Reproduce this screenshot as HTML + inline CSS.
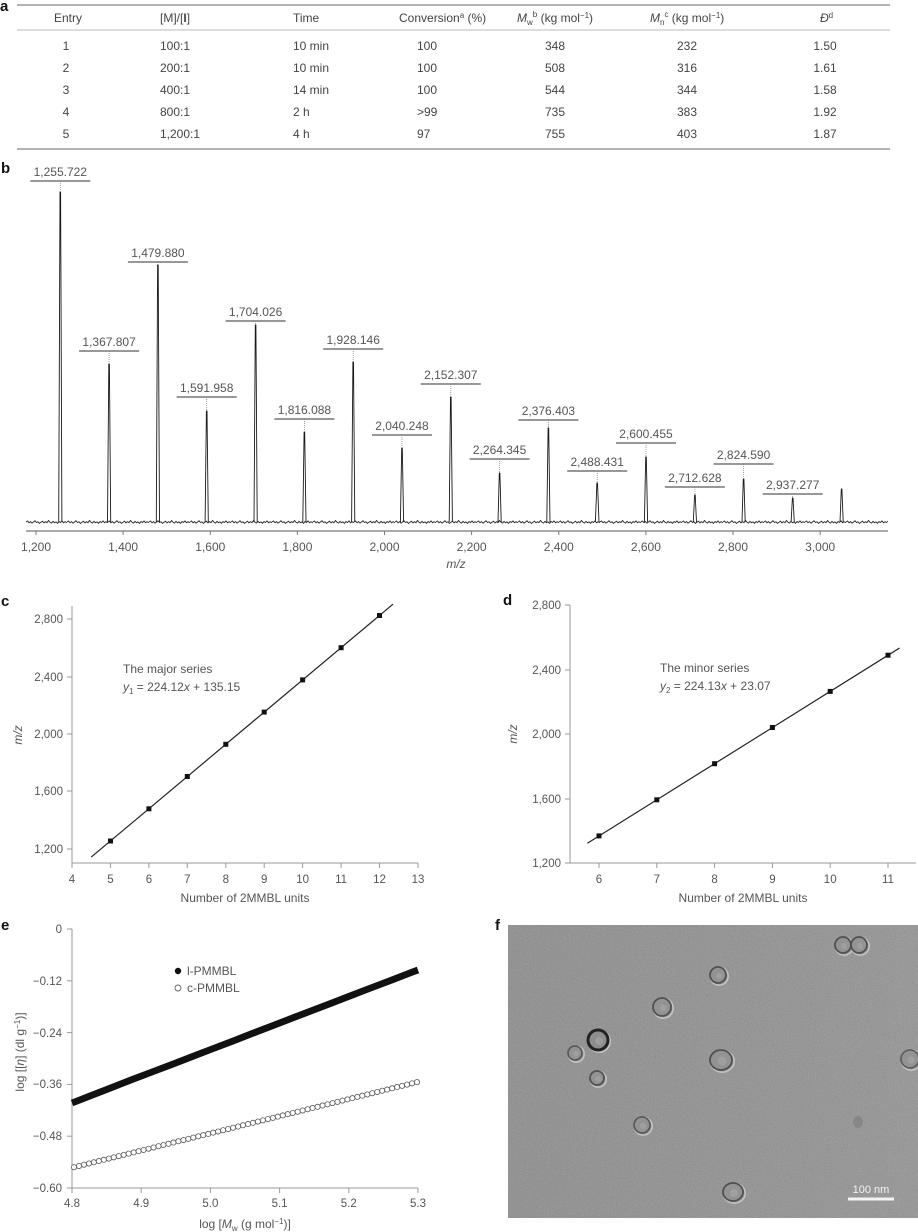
<!DOCTYPE html>
<html>
<head>
<meta charset="utf-8">
<style>
html,body{margin:0;padding:0;background:#fff;}
body{width:918px;height:1232px;overflow:hidden;}
svg{display:block;}
text{font-family:"Liberation Sans",Arial,sans-serif;}
.t{font-size:12px;fill:#444;}
.lab{font-size:12px;fill:#555;}
.tk{font-size:11.5px;fill:#555;}
.pl{font-size:15px;font-weight:bold;fill:#111;}
</style>
</head>
<body>
<svg width="918" height="1232" viewBox="0 0 918 1232" xmlns="http://www.w3.org/2000/svg">
<defs>
<filter id="noise" x="0" y="0" width="100%" height="100%">
<feTurbulence type="fractalNoise" baseFrequency="0.85" numOctaves="2" seed="7"/>
<feColorMatrix type="matrix" values="0.33 0.33 0.33 0 0  0.33 0.33 0.33 0 0  0.33 0.33 0.33 0 0  0 0 0 0 1"/>
</filter>
<linearGradient id="fg" x1="0" y1="0" x2="1" y2="0">
<stop offset="0" stop-color="#828282"/>
<stop offset="1" stop-color="#8b8b8b"/>
</linearGradient>
<pattern id="bl" patternUnits="userSpaceOnUse" x="26" y="517" width="41" height="10">
<polyline points="0,5 1.5,4 3,5.8 4.5,4.6 6,6.2 7.5,5 9,3.8 10.5,5.5 12,4.8 13.5,6.4 15,5.2 16.5,4.2 18,5.9 19.5,4.7 21,5.6 22.5,3.5 24,5.3 25.5,6.1 27,4.4 28.5,5.7 30,4.9 31.5,6.3 33,4.6 34.5,5.4 36,3.9 37.5,5.8 39,4.8 40.5,5.5 41,5" fill="none" stroke="#222" stroke-width="0.9"/>
</pattern>
<marker id="oc" markerWidth="8" markerHeight="8" refX="4" refY="4" markerUnits="userSpaceOnUse">
<circle cx="4" cy="4" r="2.6" fill="#fff" stroke="#555" stroke-width="0.8"/>
</marker>
</defs>

<!-- ===== Panel a: table ===== -->
<text class="pl" x="0" y="11" font-size="13">a</text>
<line x1="17" y1="5" x2="890" y2="5" stroke="#9a9a9a" stroke-width="1.6"/>
<line x1="17" y1="30" x2="890" y2="30" stroke="#bbb" stroke-width="1"/>
<line x1="17" y1="149" x2="890" y2="149" stroke="#9a9a9a" stroke-width="1.6"/>
<g class="t">
<text x="68" y="22" text-anchor="middle">Entry</text>
<text x="160" y="22">[M]/[<tspan font-weight="bold">I</tspan>]</text>
<text x="293" y="22">Time</text>
<text x="399" y="22">Conversion<tspan font-size="8" dy="-4">a</tspan><tspan dy="4"> (%)</tspan></text>
<text x="517" y="22"><tspan font-style="italic">M</tspan><tspan font-size="8" dy="3">w</tspan><tspan font-size="8" dy="-8">b</tspan><tspan dy="5"> (kg mol</tspan><tspan font-size="8" dy="-4">−1</tspan><tspan dy="4">)</tspan></text>
<text x="650" y="22"><tspan font-style="italic">M</tspan><tspan font-size="8" dy="3">n</tspan><tspan font-size="8" dy="-8">c</tspan><tspan dy="5"> (kg mol</tspan><tspan font-size="8" dy="-4">−1</tspan><tspan dy="4">)</tspan></text>
<text x="820" y="22"><tspan font-style="italic">Đ</tspan><tspan font-size="8" dy="-4">d</tspan></text>
</g>
<g class="t" text-anchor="middle">
<text x="66" y="50">1</text><text x="66" y="72">2</text><text x="66" y="94">3</text><text x="66" y="116">4</text><text x="66" y="138">5</text>
<text x="555" y="50">348</text><text x="555" y="72">508</text><text x="555" y="94">544</text><text x="555" y="116">735</text><text x="555" y="138">755</text>
<text x="687" y="50">232</text><text x="687" y="72">316</text><text x="687" y="94">344</text><text x="687" y="116">383</text><text x="687" y="138">403</text>
<text x="825" y="50">1.50</text><text x="825" y="72">1.61</text><text x="825" y="94">1.58</text><text x="825" y="116">1.92</text><text x="825" y="138">1.87</text>
</g>
<g class="t">
<text x="160" y="50">100:1</text><text x="160" y="72">200:1</text><text x="160" y="94">400:1</text><text x="160" y="116">800:1</text><text x="160" y="138">1,200:1</text>
<text x="293" y="50">10 min</text><text x="293" y="72">10 min</text><text x="293" y="94">14 min</text><text x="293" y="116">2 h</text><text x="293" y="138">4 h</text>
<text x="417" y="50">100</text><text x="417" y="72">100</text><text x="417" y="94">100</text><text x="417" y="116">&gt;99</text><text x="417" y="138">97</text>
</g>

<!-- ===== Panel b: spectrum ===== -->
<text class="pl" x="1" y="173">b</text>
<line x1="26" y1="531" x2="888" y2="531" stroke="#777" stroke-width="1.2"/>
<g stroke="#777" stroke-width="1">
<line x1="36" y1="531" x2="36" y2="535"/><line x1="123.1" y1="531" x2="123.1" y2="535"/><line x1="210.3" y1="531" x2="210.3" y2="535"/><line x1="297.4" y1="531" x2="297.4" y2="535"/><line x1="384.5" y1="531" x2="384.5" y2="535"/><line x1="471.6" y1="531" x2="471.6" y2="535"/><line x1="558.8" y1="531" x2="558.8" y2="535"/><line x1="645.9" y1="531" x2="645.9" y2="535"/><line x1="733" y1="531" x2="733" y2="535"/><line x1="820.2" y1="531" x2="820.2" y2="535"/>
</g>
<g class="lab" text-anchor="middle">
<text x="36" y="551">1,200</text><text x="123.1" y="551">1,400</text><text x="210.3" y="551">1,600</text><text x="297.4" y="551">1,800</text><text x="384.5" y="551">2,000</text><text x="471.6" y="551">2,200</text><text x="558.8" y="551">2,400</text><text x="645.9" y="551">2,600</text><text x="733" y="551">2,800</text><text x="820.2" y="551">3,000</text>
<text x="456" y="568" font-style="italic">m/z</text>
</g>
<rect x="26" y="517" width="862" height="10" fill="url(#bl)"/>
<path d="M58.7 522L60 192L60.6 192L61.9 522 M107.5 522L108.8 364L109.4 364L110.7 522 M156.3 522L157.6 265L158.2 265L159.5 522 M205.1 522L206.4 411L207 411L208.3 522 M254 522L255.3 325L255.9 325L257.2 522 M302.8 522L304.1 432L304.7 432L306 522 M351.6 522L352.9 362L353.5 362L354.8 522 M400.4 522L401.7 448L402.3 448L403.6 522 M449.2 522L450.5 397L451.1 397L452.4 522 M498 522L499.3 473L499.9 473L501.2 522 M546.8 522L548.1 428L548.7 428L550 522 M595.4 522L596.9 483L597.5 483L599 522 M644.4 522L645.7 457L646.3 457L647.6 522 M693.3 522L694.6 495L695.2 495L696.5 522 M742 522L743.3 479L743.9 479L745.2 522 M791.1 522L792.4 498L793 498L794.3 522 M840 522L841.3 489L841.9 489L843.2 522" fill="none" stroke="#1a1a1a" stroke-width="0.9" stroke-linejoin="round"/>
<path d="M30.3 181h60 M79.1 351h60 M127.9 262h60 M176.7 397h60 M225.6 321h60 M274.4 419h60 M323.2 349h60 M372 435h60 M420.8 384h60 M469.6 459h60 M518.4 420h60 M567.2 471h60 M616 443h60 M664.9 487h60 M713.6 464h60 M762.7 494h60" fill="none" stroke="#777" stroke-width="1.5"/>
<path d="M60.3 181V192 M109.1 351V364 M157.9 262V265 M206.7 397V411 M255.6 321V325 M304.4 419V432 M353.2 349V362 M402 435V448 M450.8 384V397 M499.6 459V473 M548.4 420V428 M597.2 471V483 M646 443V457 M694.9 487V495 M743.6 464V479 M792.7 494V498" fill="none" stroke="#888" stroke-width="0.8" stroke-dasharray="1 1"/>
<g class="lab" text-anchor="middle">
<text x="60.3" y="176">1,255.722</text>
<text x="109.1" y="346">1,367.807</text>
<text x="157.9" y="257">1,479.880</text>
<text x="206.7" y="392">1,591.958</text>
<text x="255.6" y="316">1,704.026</text>
<text x="304.4" y="414">1,816.088</text>
<text x="353.2" y="344">1,928.146</text>
<text x="402.0" y="430">2,040.248</text>
<text x="450.8" y="379">2,152.307</text>
<text x="499.6" y="454">2,264.345</text>
<text x="548.4" y="415">2,376.403</text>
<text x="597.2" y="466">2,488.431</text>
<text x="646.0" y="438">2,600.455</text>
<text x="694.9" y="482">2,712.628</text>
<text x="743.6" y="459">2,824.590</text>
<text x="792.7" y="489">2,937.277</text>
</g>

<!-- ===== Panel c ===== -->
<text class="pl" x="1" y="606">c</text>
<g stroke="#999" stroke-width="1">
<line x1="72" y1="606" x2="72" y2="863.5"/>
<line x1="71.5" y1="863" x2="418" y2="863"/>
<line x1="67" y1="619" x2="72" y2="619"/><line x1="67" y1="677" x2="72" y2="677"/><line x1="67" y1="734" x2="72" y2="734"/><line x1="67" y1="791" x2="72" y2="791"/><line x1="67" y1="849" x2="72" y2="849"/>
<line x1="72" y1="863" x2="72" y2="868"/><line x1="110.4" y1="863" x2="110.4" y2="868"/><line x1="148.9" y1="863" x2="148.9" y2="868"/><line x1="187.3" y1="863" x2="187.3" y2="868"/><line x1="225.8" y1="863" x2="225.8" y2="868"/><line x1="264.2" y1="863" x2="264.2" y2="868"/><line x1="302.6" y1="863" x2="302.6" y2="868"/><line x1="341.1" y1="863" x2="341.1" y2="868"/><line x1="379.5" y1="863" x2="379.5" y2="868"/><line x1="418" y1="863" x2="418" y2="868"/>
</g>
<g class="tk" text-anchor="end">
<text x="63" y="623">2,800</text><text x="63" y="681">2,400</text><text x="63" y="738">2,000</text><text x="63" y="795">1,600</text><text x="63" y="853">1,200</text>
</g>
<g class="tk" text-anchor="middle">
<text x="72" y="883">4</text><text x="110.4" y="883">5</text><text x="148.9" y="883">6</text><text x="187.3" y="883">7</text><text x="225.8" y="883">8</text><text x="264.2" y="883">9</text><text x="302.6" y="883">10</text><text x="341.1" y="883">11</text><text x="379.5" y="883">12</text><text x="418" y="883">13</text>
</g>
<text class="lab" x="245" y="902" text-anchor="middle">Number of 2MMBL units</text>
<text class="lab" x="22" y="735" text-anchor="middle" font-style="italic" transform="rotate(-90 22 735)">m/z</text>
<text class="lab" x="123" y="673" font-size="12.5">The major series</text>
<text class="lab" x="123" y="691" font-size="12.5"><tspan font-style="italic">y</tspan><tspan font-size="8" dy="3">1</tspan><tspan dy="-3"> = 224.12</tspan><tspan font-style="italic">x</tspan> + 135.15</text>
<line x1="91.2" y1="857.1" x2="393" y2="604.2" stroke="#222" stroke-width="1.2"/>
<g fill="#111">
<rect x="108" y="838.5" width="5" height="5"/><rect x="146.4" y="806.3" width="5" height="5"/><rect x="184.8" y="774" width="5" height="5"/><rect x="223.3" y="741.8" width="5" height="5"/><rect x="261.7" y="709.6" width="5" height="5"/><rect x="300.1" y="677.4" width="5" height="5"/><rect x="338.6" y="645.2" width="5" height="5"/><rect x="377" y="613" width="5" height="5"/>
</g>

<!-- ===== Panel d ===== -->
<text class="pl" x="503" y="605">d</text>
<g stroke="#999" stroke-width="1">
<line x1="570" y1="605" x2="570" y2="863.5"/>
<line x1="569.5" y1="863" x2="916" y2="863"/>
<line x1="565" y1="605" x2="570" y2="605"/><line x1="565" y1="670" x2="570" y2="670"/><line x1="565" y1="734" x2="570" y2="734"/><line x1="565" y1="799" x2="570" y2="799"/><line x1="565" y1="863" x2="570" y2="863"/>
<line x1="599" y1="863" x2="599" y2="868"/><line x1="656.8" y1="863" x2="656.8" y2="868"/><line x1="714.6" y1="863" x2="714.6" y2="868"/><line x1="772.4" y1="863" x2="772.4" y2="868"/><line x1="830.2" y1="863" x2="830.2" y2="868"/><line x1="888" y1="863" x2="888" y2="868"/>
</g>
<g class="tk" text-anchor="end">
<text x="561" y="609">2,800</text><text x="561" y="674">2,400</text><text x="561" y="738">2,000</text><text x="561" y="803">1,600</text><text x="561" y="867">1,200</text>
</g>
<g class="tk" text-anchor="middle">
<text x="599" y="883">6</text><text x="656.8" y="883">7</text><text x="714.6" y="883">8</text><text x="772.4" y="883">9</text><text x="830.2" y="883">10</text><text x="888" y="883">11</text>
</g>
<text class="lab" x="743" y="902" text-anchor="middle">Number of 2MMBL units</text>
<text class="lab" x="517" y="734" text-anchor="middle" font-style="italic" transform="rotate(-90 517 734)">m/z</text>
<text class="lab" x="660" y="672" font-size="12.5">The minor series</text>
<text class="lab" x="660" y="690" font-size="12.5"><tspan font-style="italic">y</tspan><tspan font-size="8" dy="3">2</tspan><tspan dy="-3"> = 224.13</tspan><tspan font-style="italic">x</tspan> + 23.07</text>
<line x1="587.4" y1="843.2" x2="899.6" y2="648" stroke="#222" stroke-width="1.2"/>
<g fill="#111">
<rect x="596.5" y="833.4" width="5" height="5"/><rect x="654.3" y="797.3" width="5" height="5"/><rect x="712.1" y="761.2" width="5" height="5"/><rect x="769.9" y="725" width="5" height="5"/><rect x="827.7" y="688.9" width="5" height="5"/><rect x="885.5" y="652.7" width="5" height="5"/>
</g>

<!-- ===== Panel e ===== -->
<text class="pl" x="1" y="930">e</text>
<g stroke="#999" stroke-width="1">
<line x1="72" y1="929" x2="72" y2="1188.5"/>
<line x1="71.5" y1="1188" x2="418" y2="1188"/>
<line x1="67" y1="929" x2="72" y2="929"/><line x1="67" y1="980.8" x2="72" y2="980.8"/><line x1="67" y1="1032.6" x2="72" y2="1032.6"/><line x1="67" y1="1084.4" x2="72" y2="1084.4"/><line x1="67" y1="1136.2" x2="72" y2="1136.2"/><line x1="67" y1="1188" x2="72" y2="1188"/>
<line x1="72" y1="1188" x2="72" y2="1193"/><line x1="141.2" y1="1188" x2="141.2" y2="1193"/><line x1="210.4" y1="1188" x2="210.4" y2="1193"/><line x1="279.6" y1="1188" x2="279.6" y2="1193"/><line x1="348.8" y1="1188" x2="348.8" y2="1193"/><line x1="418" y1="1188" x2="418" y2="1193"/>
</g>
<g class="tk" text-anchor="end">
<text x="62" y="933">0</text><text x="62" y="985">−0.12</text><text x="62" y="1037">−0.24</text><text x="62" y="1088">−0.36</text><text x="62" y="1140">−0.48</text><text x="62" y="1192">−0.60</text>
</g>
<g class="tk" text-anchor="middle">
<text x="72" y="1207">4.8</text><text x="141.2" y="1207">4.9</text><text x="210.4" y="1207">5.0</text><text x="279.6" y="1207">5.1</text><text x="348.8" y="1207">5.2</text><text x="418" y="1207">5.3</text>
</g>
<text class="lab" x="245" y="1228" text-anchor="middle">log [<tspan font-style="italic">M</tspan><tspan font-size="8" dy="3">w</tspan><tspan dy="-3"> (g mol</tspan><tspan font-size="8" dy="-4">−1</tspan><tspan dy="4">)]</tspan></text>
<text class="lab" x="24" y="1052" text-anchor="middle" transform="rotate(-90 24 1052)">log [[<tspan font-style="italic">η</tspan>] (dl g<tspan font-size="8" dy="-4">−1</tspan><tspan dy="4">)]</tspan></text>
<polyline points="72,1103 92,1095.2 112,1087.4 132,1079.6 152,1072 172,1064.4 192,1056.7 212,1049 232,1041.4 252,1033.6 272,1025.9 292,1018.2 312,1010.6 332,1002.9 352,995.2 372,987.5 392,979.9 412,972.2 418,970" fill="none" stroke="#111" stroke-width="6.8" stroke-linejoin="round"/>
<path d="M74 1167.2 l4.971 -1.233 l4.971 -1.233 l4.971 -1.233 l4.971 -1.233 l4.971 -1.233 l4.971 -1.233 l4.971 -1.233 l4.971 -1.233 l4.971 -1.233 l4.971 -1.233 l4.971 -1.233 l4.971 -1.233 l4.971 -1.233 l4.971 -1.233 l4.971 -1.233 l4.971 -1.233 l4.971 -1.233 l4.971 -1.233 l4.971 -1.233 l4.971 -1.233 l4.971 -1.233 l4.971 -1.233 l4.971 -1.233 l4.971 -1.233 l4.971 -1.233 l4.971 -1.233 l4.971 -1.233 l4.971 -1.233 l4.971 -1.233 l4.971 -1.233 l4.971 -1.233 l4.971 -1.233 l4.971 -1.233 l4.971 -1.233 l4.971 -1.233 l4.971 -1.233 l4.971 -1.233 l4.971 -1.233 l4.971 -1.233 l4.971 -1.233 l4.971 -1.233 l4.971 -1.233 l4.971 -1.233 l4.971 -1.233 l4.971 -1.233 l4.971 -1.233 l4.971 -1.233 l4.971 -1.233 l4.971 -1.233 l4.971 -1.233 l4.971 -1.233 l4.971 -1.233 l4.971 -1.233 l4.971 -1.233 l4.971 -1.233 l4.971 -1.233 l4.971 -1.233 l4.971 -1.233 l4.971 -1.233 l4.971 -1.233 l4.971 -1.233 l4.971 -1.233 l4.971 -1.233 l4.971 -1.233 l4.971 -1.233 l4.971 -1.233 l4.971 -1.233 l4.971 -1.233 l4.971 -1.233" fill="none" stroke="none" marker-start="url(#oc)" marker-mid="url(#oc)" marker-end="url(#oc)"/>
<circle cx="178" cy="971" r="3.2" fill="#111"/>
<circle cx="178" cy="988" r="3" fill="#fff" stroke="#666" stroke-width="0.9"/>
<text class="lab" x="187" y="975" font-size="12.5">l-PMMBL</text>
<text class="lab" x="187" y="992" font-size="12.5">c-PMMBL</text>

<!-- ===== Panel f ===== -->
<text class="pl" x="495" y="930">f</text>
<rect x="508" y="925" width="410" height="293" fill="url(#fg)"/>
<rect x="508" y="925" width="410" height="293" filter="url(#noise)" opacity="0.3"/>
<g>
<circle cx="844.2" cy="946.2" r="9" fill="none" stroke="#c8c8c8" stroke-width="1.4"/>
<circle cx="843" cy="945" r="8" fill="#939393" stroke="#505050" stroke-width="1.8"/>
<circle cx="860.2" cy="946.2" r="9" fill="none" stroke="#c8c8c8" stroke-width="1.4"/>
<circle cx="859" cy="945" r="8" fill="#939393" stroke="#505050" stroke-width="1.8"/>
<circle cx="719.2" cy="976.2" r="9" fill="none" stroke="#c8c8c8" stroke-width="1.4"/>
<circle cx="718" cy="975" r="8" fill="#939393" stroke="#505050" stroke-width="1.8"/>
<circle cx="663.2" cy="1008.2" r="10" fill="none" stroke="#c8c8c8" stroke-width="1.4"/>
<circle cx="662" cy="1007" r="9" fill="#939393" stroke="#505050" stroke-width="1.8"/>
<circle cx="599.2" cy="1041.2" r="11" fill="none" stroke="#c8c8c8" stroke-width="1.4"/>
<circle cx="598" cy="1040" r="10" fill="#8d8d8d" stroke="#222" stroke-width="3"/>
<circle cx="576.2" cy="1054.2" r="8" fill="none" stroke="#c8c8c8" stroke-width="1.4"/>
<circle cx="575" cy="1053" r="7" fill="#939393" stroke="#555" stroke-width="1.6"/>
<circle cx="598.2" cy="1079.2" r="8" fill="none" stroke="#c8c8c8" stroke-width="1.4"/>
<circle cx="597" cy="1078" r="7" fill="#939393" stroke="#505050" stroke-width="1.8"/>
<ellipse cx="722.2" cy="1061.2" rx="12" ry="11" fill="none" stroke="#c8c8c8" stroke-width="1.4"/>
<ellipse cx="721" cy="1060" rx="11" ry="10" fill="#939393" stroke="#505050" stroke-width="1.8"/>
<circle cx="911.2" cy="1060.2" r="10" fill="none" stroke="#c8c8c8" stroke-width="1.4"/>
<circle cx="910" cy="1059" r="9" fill="#939393" stroke="#5a5a5a" stroke-width="1.6"/>
<circle cx="643.2" cy="1126.2" r="9" fill="none" stroke="#c8c8c8" stroke-width="1.4"/>
<circle cx="642" cy="1125" r="8" fill="#939393" stroke="#555" stroke-width="1.6"/>
<ellipse cx="734.2" cy="1193.2" rx="11" ry="10" fill="none" stroke="#c8c8c8" stroke-width="1.4"/>
<ellipse cx="733" cy="1192" rx="10" ry="9" fill="#939393" stroke="#505050" stroke-width="1.8"/>
<ellipse cx="858" cy="1122" rx="5" ry="6" fill="#7c7c7c" opacity="0.6"/>
</g>
<g fill="#a8a8a8" opacity="0.6">
<circle cx="844" cy="946" r="3"/><circle cx="860" cy="946" r="3"/><circle cx="719" cy="976" r="3"/><circle cx="663" cy="1008" r="3.5"/><circle cx="599" cy="1041" r="4"/><circle cx="576" cy="1054" r="2.8"/><circle cx="598" cy="1079" r="2.8"/><circle cx="722" cy="1061" r="4.4"/><circle cx="911" cy="1060" r="3.6"/><circle cx="643" cy="1126" r="3.2"/><circle cx="734" cy="1193" r="4"/>
</g>
<rect x="848" y="1197.5" width="46" height="3" fill="#f4f4f4"/>
<text x="871" y="1193" text-anchor="middle" font-size="11" fill="#f4f4f4">100 nm</text>
</svg>
</body>
</html>
